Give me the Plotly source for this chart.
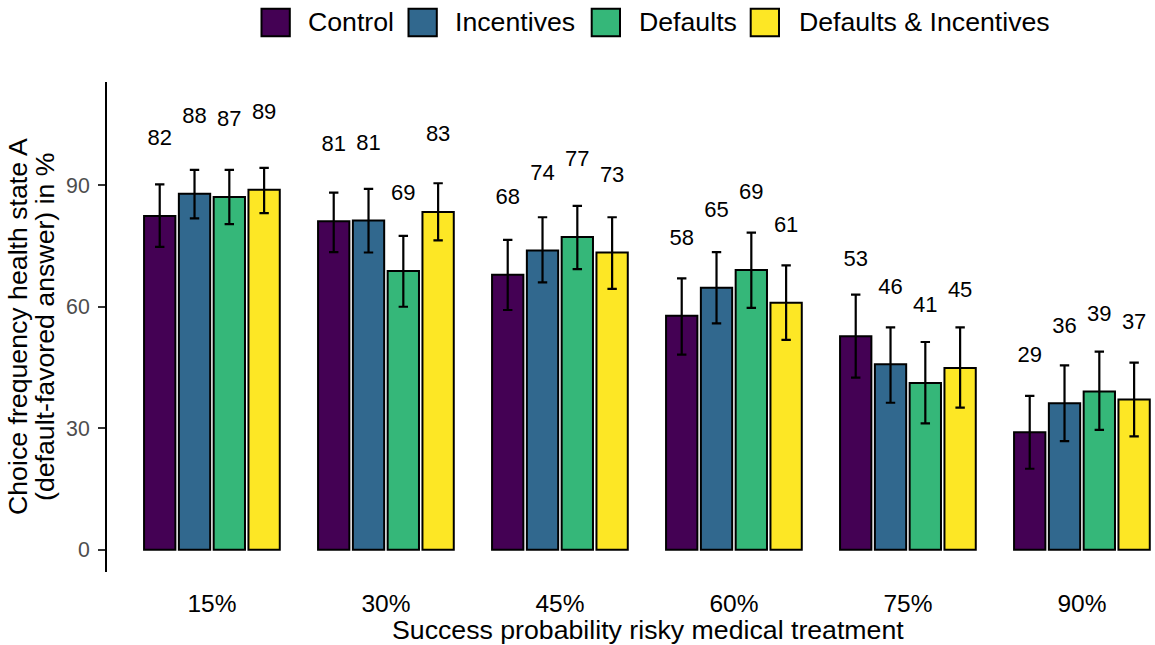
import plotly.graph_objects as go

# Success probability of the risky treatment (x categories)
categories = ["15%", "30%", "45%", "60%", "75%", "90%"]
conditions = ["Control", "Incentives", "Defaults", "Defaults & Incentives"]
colors = ["#440154", "#31688E", "#35B779", "#FDE725"]

# Choice frequency (%) with lower / upper confidence limits, one list per condition
control = [82.4, 81.1, 67.9, 57.8, 52.7, 29.0]
control_lo = [74.8, 73.5, 59.2, 48.2, 42.5, 20.0]
control_hi = [90.2, 88.2, 76.5, 67.0, 63.0, 38.0]

incentives = [87.9, 81.3, 73.9, 64.7, 45.8, 36.2]
incentives_lo = [81.8, 73.4, 66.0, 55.9, 36.3, 26.8]
incentives_hi = [93.8, 89.1, 82.1, 73.5, 54.9, 45.5]

defaults = [87.1, 68.8, 77.2, 69.1, 41.2, 39.1]
defaults_lo = [80.4, 60.0, 69.3, 59.7, 31.2, 29.6]
defaults_hi = [93.8, 77.5, 84.9, 78.3, 51.3, 48.9]

both = [88.9, 83.4, 73.4, 61.0, 44.9, 37.1]
both_lo = [83.1, 76.4, 64.4, 51.8, 35.1, 28.0]
both_hi = [94.3, 90.5, 82.1, 70.2, 54.9, 46.2]

y_ticks = [0, 30, 60, 90]

series = [
    (control, control_lo, control_hi),
    (incentives, incentives_lo, incentives_hi),
    (defaults, defaults_lo, defaults_hi),
    (both, both_lo, both_hi),
]

FONT = "Liberation Sans, Arial, sans-serif"
W, H = 1155, 645
# plot area in pixels
L, R, T, B = 107, 0, 81.7, 72.7
PW, PH = W - L - R, H - T - B

BARGAP = 0.2
n_groups = len(conditions)
slot = (1 - BARGAP) / n_groups
LABEL_LIFT = 18.8

fig = go.Figure()
xs = list(range(len(categories)))

for j, (name, col, (vals, lo, hi)) in enumerate(zip(conditions, colors, series)):
    fig.add_trace(go.Bar(
        x=xs, y=vals, name=name,
        marker=dict(color=col, line=dict(color="black", width=2)),
        error_y=dict(
            type="data", symmetric=False,
            array=[h - v for v, h in zip(vals, hi)],
            arrayminus=[v - l for v, l in zip(vals, lo)],
            color="black", thickness=2.2, width=4.7,
        ),
        showlegend=False,
    ))
    offset = (j - (n_groups - 1) / 2) * slot
    fig.add_trace(go.Scatter(
        x=[x + offset for x in xs],
        y=[v + LABEL_LIFT for v in vals],
        mode="text",
        text=[f"{round(v)}" for v in vals],
        textposition="middle center",
        textfont=dict(family=FONT, size=22, color="black"),
        showlegend=False, hoverinfo="skip",
    ))


def px_x(px):
    return (px - L) / PW


def px_y(py):
    return (H - B - py) / PH


# legend drawn above the panel
legend_box_left = [261.5, 408.5, 591.7, 750.7]
legend_text_left = [306.7, 454.0, 638.3, 797.5]
box_w, box_top, box_bot, legend_mid = 28.3, 8.3, 36.0, 22.0
shapes = []
annotations = []
for name, col, bx, tx in zip(conditions, colors, legend_box_left, legend_text_left):
    shapes.append(dict(
        type="rect", xref="paper", yref="paper",
        x0=px_x(bx), x1=px_x(bx + box_w), y0=px_y(box_bot), y1=px_y(box_top),
        fillcolor=col, line=dict(color="black", width=2),
    ))
    annotations.append(dict(
        xref="paper", yref="paper", x=px_x(tx), y=px_y(legend_mid),
        xanchor="left", yanchor="middle", text=name, showarrow=False,
        font=dict(family=FONT, size=26.7, color="black"), borderpad=0,
    ))

# axis titles
annotations.append(dict(
    xref="paper", yref="paper", x=px_x(648), y=px_y(630),
    xanchor="center", yanchor="middle", showarrow=False, borderpad=0,
    text="Success probability risky medical treatment",
    font=dict(family=FONT, size=26.7, color="black"),
))
for txt, cx in [("Choice frequency health state A", 18.0),
                ("(default-favored answer) in %", 45.0)]:
    annotations.append(dict(
        xref="paper", yref="paper", x=px_x(cx), y=0.5,
        xanchor="center", yanchor="middle", showarrow=False, borderpad=0,
        textangle=-90, text=txt,
        font=dict(family=FONT, size=26.7, color="black"),
    ))

x_lo = -0.603
x_hi = x_lo + PW / 174.0

fig.update_layout(
    width=W, height=H,
    margin=dict(l=L, r=R, t=T, b=B, pad=0),
    paper_bgcolor="white", plot_bgcolor="white",
    barmode="group", bargap=BARGAP, bargroupgap=0.1,
    showlegend=False,
    shapes=shapes, annotations=annotations,
    xaxis=dict(
        range=[x_lo, x_hi], tickmode="array", tickvals=xs, ticktext=categories,
        showline=False, showgrid=False, zeroline=False, ticks="",
        tickfont=dict(family=FONT, size=24.5, color="black"),
        ticklabelstandoff=14,
    ),
    yaxis=dict(
        range=[-5.5, 115.5], tickmode="array", tickvals=y_ticks,
        showline=True, linecolor="black", linewidth=2,
        showgrid=False, zeroline=False,
        ticks="outside", ticklen=7, tickwidth=1.5, tickcolor="#333333",
        tickfont=dict(family=FONT, size=21.3, color="#4D4D4D"),
        ticklabelstandoff=4,
    ),
)

fig.write_html("out.html")
